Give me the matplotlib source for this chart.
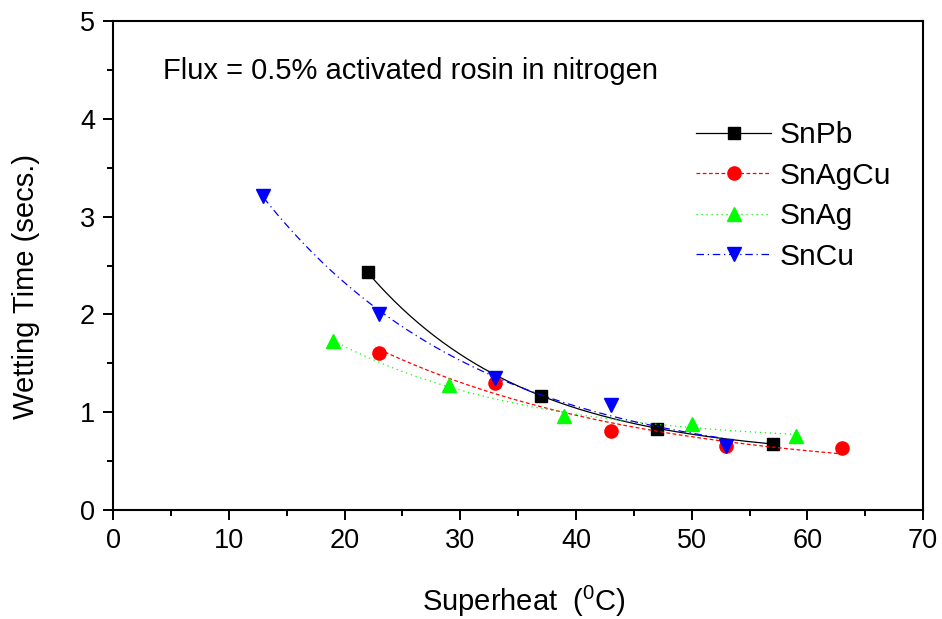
import numpy as np
import matplotlib
matplotlib.use("Agg")
import matplotlib.pyplot as plt
from matplotlib.ticker import MultipleLocator

plt.rcParams['font.family'] = ['Liberation Sans', 'DejaVu Sans']
plt.rcParams['mathtext.fontset'] = 'custom'
plt.rcParams['mathtext.rm'] = 'Liberation Sans'
plt.rcParams['mathtext.it'] = 'Liberation Sans:italic'

# Data
snpb_x = [22, 37, 47, 57]
snpb_y = [2.43, 1.17, 0.83, 0.68]
snagcu_x = [23, 33, 43, 53, 63]
snagcu_y = [1.61, 1.30, 0.81, 0.65, 0.63]
snag_x = [19, 29, 39, 50, 59]
snag_y = [1.73, 1.28, 0.96, 0.88, 0.76]
sncu_x = [13, 23, 33, 43, 53]
sncu_y = [3.21, 2.00, 1.35, 1.07, 0.66]

series = [
    ("SnPb", snpb_x, snpb_y, "black", "-", "s", 8.5),
    ("SnAgCu", snagcu_x, snagcu_y, "#ff0000", (0, (3, 2)), "o", 9.5),
    ("SnAg", snag_x, snag_y, "#00ff00", (0, (1, 3)), "^", 10),
    ("SnCu", sncu_x, sncu_y, "#0000ff", (0, (6, 3, 1, 3)), "v", 10),
]


def exp_decay_fit(xs, ys):
    """First-order exponential decay fit y = y0 + A*exp(-x/t)."""
    best = None
    for t in np.linspace(3, 80, 400):
        M = np.column_stack([np.ones_like(xs), np.exp(-xs / t)])
        c, *_ = np.linalg.lstsq(M, ys, rcond=None)
        r = np.sum((M @ c - ys) ** 2)
        if best is None or r < best[0]:
            best = (r, t, c)
    _, t, c = best
    return lambda x: c[0] + c[1] * np.exp(-x / t)


fig = plt.figure(figsize=(9.42, 6.19), dpi=100)
ax = fig.add_axes([0.12, 0.176, 0.86, 0.79])

for name, xs, ys, col, ls, mk, ms in series:
    xs = np.asarray(xs, float)
    ys = np.asarray(ys, float)
    f = exp_decay_fit(xs, ys)
    xf = np.linspace(xs.min(), xs.max(), 200)
    ax.plot(xf, f(xf), color=col, ls=ls, lw=0.9)
    ax.plot(xs, ys, ls='none', marker=mk, color=col, ms=ms, mec=col)
    ax.plot([], [], color=col, ls=ls, lw=0.9, marker=mk, ms=ms, label=name)

ax.set_xlim(0, 70)
ax.set_ylim(0, 5)
ax.xaxis.set_major_locator(MultipleLocator(10))
ax.xaxis.set_minor_locator(MultipleLocator(5))
ax.yaxis.set_major_locator(MultipleLocator(1))
ax.yaxis.set_minor_locator(MultipleLocator(0.5))
ax.tick_params(which='both', direction='out', width=1.4, labelsize=19.5, top=False, right=False)
ax.tick_params(which='major', length=7, pad=6)
ax.tick_params(which='minor', length=4)
for s in ax.spines.values():
    s.set_linewidth(1.5)

ax.set_xlabel("Superheat  ($^{0}$C)", fontsize=21)
ax.set_ylabel("Wetting Time (secs.)", fontsize=21)
ax.xaxis.set_label_coords(0.507, -0.15)
ax.yaxis.set_label_coords(-0.09, 0.458)

ax.text(4.3, 4.49, "Flux = 0.5% activated rosin in nitrogen", fontsize=21, va='center', ha='left')

leg = ax.legend(loc='upper left', bbox_to_anchor=(0.72, 0.795), frameon=False,
                fontsize=21.5, numpoints=1, handlelength=2.5, handletextpad=0.3,
                labelspacing=0.42, borderpad=0, borderaxespad=0)

fig.savefig("out.png", dpi=100)
